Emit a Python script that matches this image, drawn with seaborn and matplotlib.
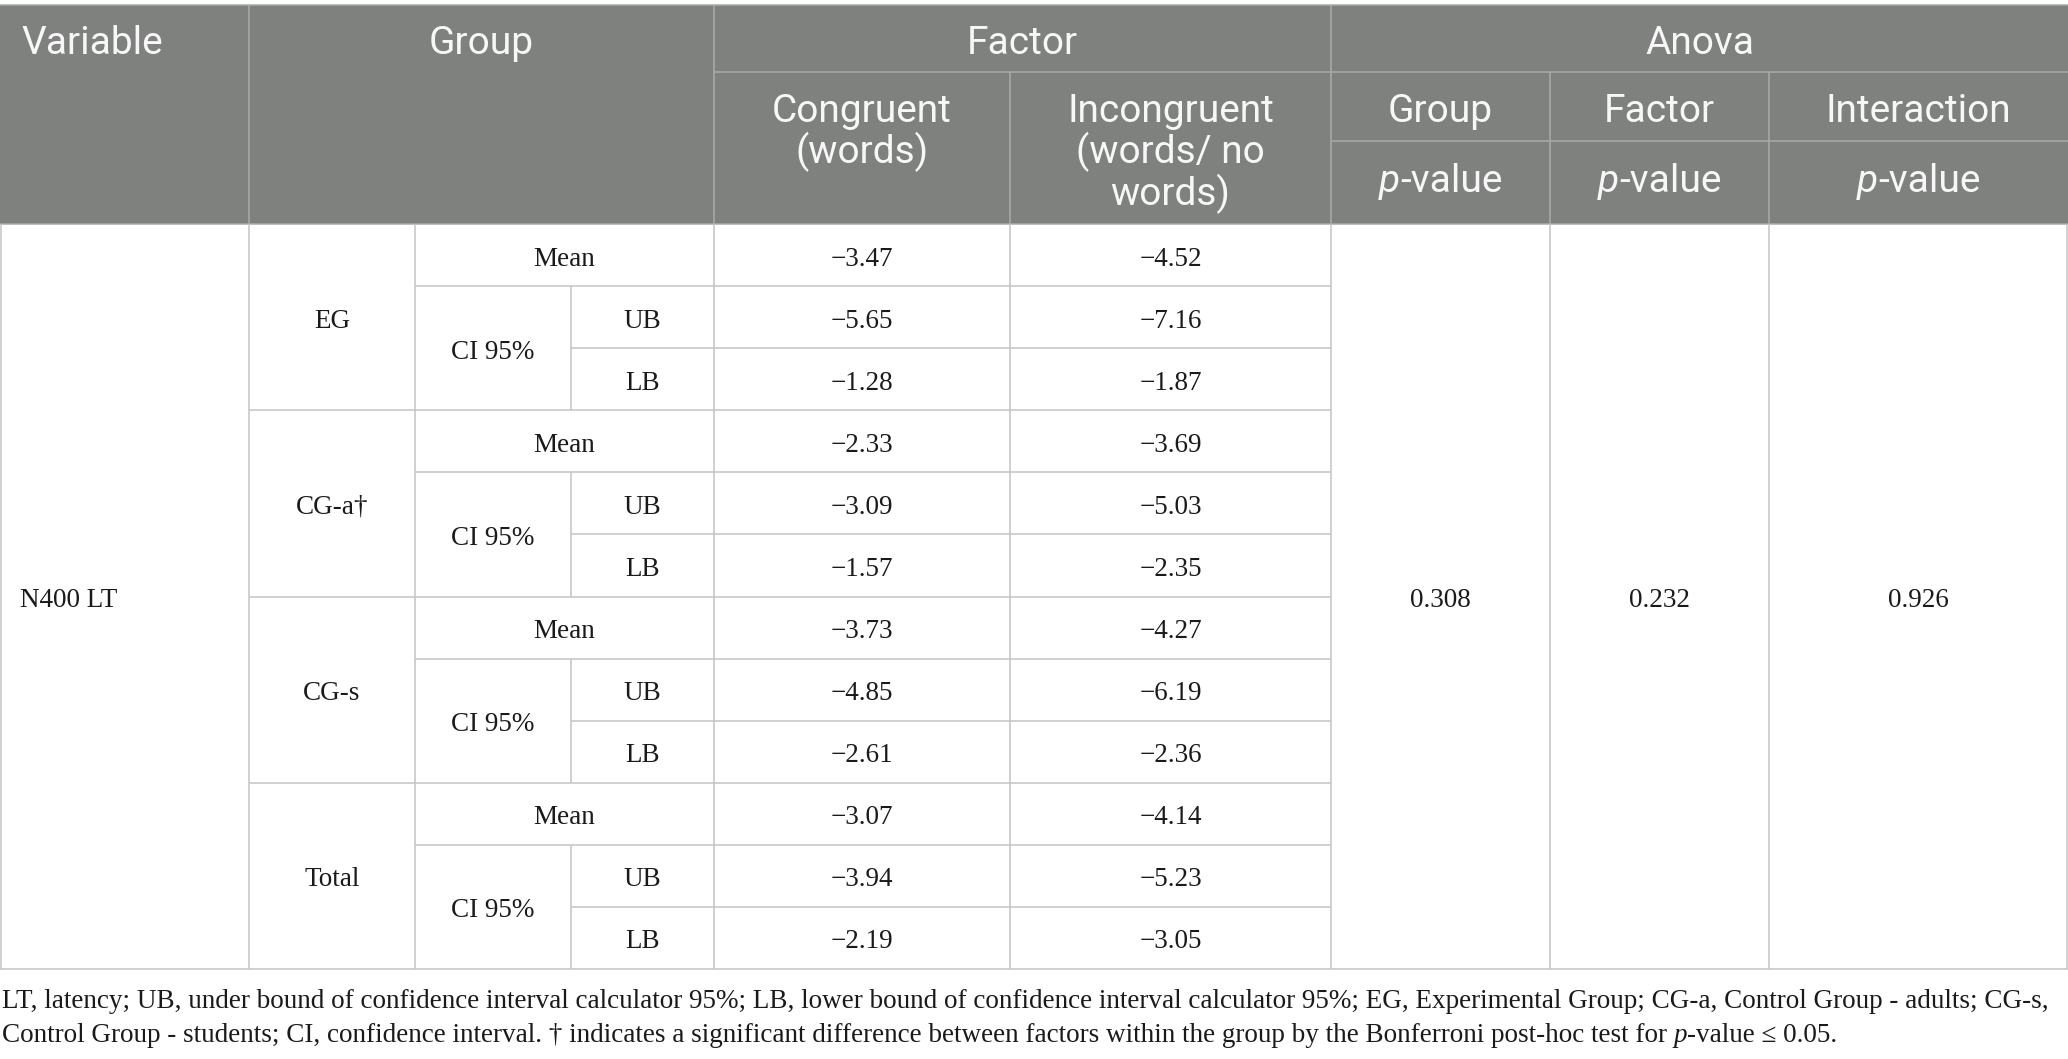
import numpy as np
import pandas as pd
import matplotlib
matplotlib.use('Agg')
import matplotlib.pyplot as plt
import seaborn as sns

# table values
groups = ['EG', 'CG-a†', 'CG-s', 'Total']
congruent_mean = [-3.47, -2.33, -3.73, -3.07]
congruent_ub = [-5.65, -3.09, -4.85, -3.94]
congruent_lb = [-1.28, -1.57, -2.61, -2.19]
incongruent_mean = [-4.52, -3.69, -4.27, -4.14]
incongruent_ub = [-7.16, -5.03, -6.19, -5.23]
incongruent_lb = [-1.87, -2.35, -2.36, -3.05]
anova_labels = ['Group', 'Factor', 'Interaction']
anova_p = [0.308, 0.232, 0.926]
variable_name = 'N400 LT'
footnote_1 = ('LT, latency; UB, under bound of confidence interval calculator 95%; LB, lower bound of '
              'confidence interval calculator 95%; EG, Experimental Group; CG-a, Control Group - adults; CG-s,')
footnote_2 = ('Control Group - students; CI, confidence interval. † indicates a significant difference '
              'between factors within the group by the Bonferroni post-hoc test for ')

sns.set_theme(style='white')
plt.rcParams['font.family'] = ['Liberation Serif', 'DejaVu Serif']

W, H = 2068, 1059
fig = plt.figure(figsize=(W / 100, H / 100), dpi=100)
ax = fig.add_axes([0, 0, 1, 1])
ax.set_xlim(0, W)
ax.set_ylim(H, 0)
ax.axis('off')
renderer = fig.canvas.get_renderer()

HEAD_BG = '#7f817f'
HEAD_LINE = '#a9aba9'
BODY_LINE = '#c4c4c4'
HEAD_TXT = '#f7f7f7'
SANS = ['Roboto', 'DejaVu Sans']
SERIF = ['Liberation Serif', 'DejaVu Serif']
head_fs = 28
body_fs = 19.5

cols = [0, 249, 415, 571, 714, 1010, 1331, 1550, 1769, W]
top, h1, h2, hb = 5, 72, 141, 224
row_h = (969 - hb) / 12
bottom = hb + 12 * row_h
dy = 4  # serif text sits a little low in its cell


def fmt(v):
    return f'{v:.2f}'.replace('-', '\u2212')


def runs_text(x, y, runs, ha='center', **kw):
    # draw text pieces side by side (used for italic p)
    arts = [ax.text(0, y, t, va='center', ha='left', fontstyle=s, **kw) for t, s in runs]
    widths = [a.get_window_extent(renderer).width for a in arts]
    total = sum(widths)
    x0 = x - total / 2 if ha == 'center' else x
    for a, w in zip(arts, widths):
        a.set_x(x0)
        x0 += w


def hline(y, x0, x1, c):
    ax.plot([x0, x1], [y, y], color=c, lw=1.1, solid_capstyle='butt')


def vline(x, y0, y1, c):
    ax.plot([x, x], [y0, y1], color=c, lw=1.1, solid_capstyle='butt')


# header block
ax.add_patch(plt.Rectangle((0, top), W, hb - top, color=HEAD_BG, lw=0))
hline(top, 0, W, HEAD_LINE)
hline(h1, cols[4], W, HEAD_LINE)
hline(h2, cols[6], W, HEAD_LINE)
hline(hb, 0, W, HEAD_LINE)
for x in [cols[1], cols[4], cols[6]]:
    vline(x, top, hb, HEAD_LINE)
for x in [cols[5], cols[7], cols[8]]:
    vline(x, h1, hb, HEAD_LINE)

hk = dict(color=HEAD_TXT, fontsize=head_fs, family=SANS)
ax.text(21, 44, 'Variable', ha='left', va='center', **hk)
ax.text((cols[1] + cols[4]) / 2, 44, 'Group', ha='center', va='center', **hk)
ax.text((cols[4] + cols[6]) / 2, 44, 'Factor', ha='center', va='center', **hk)
ax.text((cols[6] + W) / 2, 44, 'Anova', ha='center', va='center', **hk)
ax.text((cols[4] + cols[5]) / 2, 93, 'Congruent\n(words)', ha='center', va='top',
        linespacing=1.06, **hk)
ax.text((cols[5] + cols[6]) / 2, 93, 'Incongruent\n(words/ no\nwords)', ha='center',
        va='top', linespacing=1.06, **hk)
anova_x = [cols[6], cols[7], cols[8], W]
for i, lab in enumerate(anova_labels):
    cx = (anova_x[i] + anova_x[i + 1]) / 2
    ax.text(cx, 112, lab, ha='center', va='center', **hk)
    runs_text(cx, 181, [('p', 'italic'), ('-value', 'normal')], **hk)

# body
bk = dict(color='#1a1a1a', fontsize=body_fs, family=SERIF)
vline(1, hb, bottom, BODY_LINE)
vline(W - 1, hb, bottom, BODY_LINE)
hline(bottom, 0, W, BODY_LINE)
for x in [cols[1], cols[2], cols[4], cols[5], cols[6], cols[7], cols[8]]:
    vline(x, hb, bottom, BODY_LINE)

ax.text(20, (hb + bottom) / 2 + dy, variable_name, ha='left', va='center', **bk)

cong = [congruent_mean, congruent_ub, congruent_lb]
incong = [incongruent_mean, incongruent_ub, incongruent_lb]
for g, name in enumerate(groups):
    y0 = hb + 3 * g * row_h + dy
    yl = hb + 3 * g * row_h
    if g > 0:
        hline(yl, cols[1], cols[6], BODY_LINE)
    hline(yl + row_h, cols[2], cols[6], BODY_LINE)
    hline(yl + 2 * row_h, cols[3], cols[6], BODY_LINE)
    vline(cols[3], yl + row_h, yl + 3 * row_h, BODY_LINE)
    ax.text((cols[1] + cols[2]) / 2, y0 + 1.5 * row_h, name, ha='center', va='center', **bk)
    ax.text((cols[2] + cols[4]) / 2, y0 + 0.5 * row_h, 'Mean', ha='center', va='center', **bk)
    ax.text((cols[2] + cols[3]) / 2, y0 + 2 * row_h, 'CI 95%', ha='center', va='center', **bk)
    ax.text((cols[3] + cols[4]) / 2, y0 + 1.5 * row_h, 'UB', ha='center', va='center', **bk)
    ax.text((cols[3] + cols[4]) / 2, y0 + 2.5 * row_h, 'LB', ha='center', va='center', **bk)
    for r in range(3):
        yc = y0 + (r + 0.5) * row_h
        ax.text((cols[4] + cols[5]) / 2, yc, fmt(cong[r][g]), ha='center', va='center', **bk)
        ax.text((cols[5] + cols[6]) / 2, yc, fmt(incong[r][g]), ha='center', va='center', **bk)

for i, p in enumerate(anova_p):
    ax.text((anova_x[i] + anova_x[i + 1]) / 2, (hb + bottom) / 2 + dy, f'{p:.3f}',
            ha='center', va='center', **bk)

# footnote
ax.text(2, 1002, footnote_1, ha='left', va='center', **bk)
runs_text(2, 1035, [(footnote_2, 'normal'), ('p', 'italic'), ('-value \u2264 0.05.', 'normal')],
          ha='left', **bk)

fig.savefig('out.png', dpi=100)
